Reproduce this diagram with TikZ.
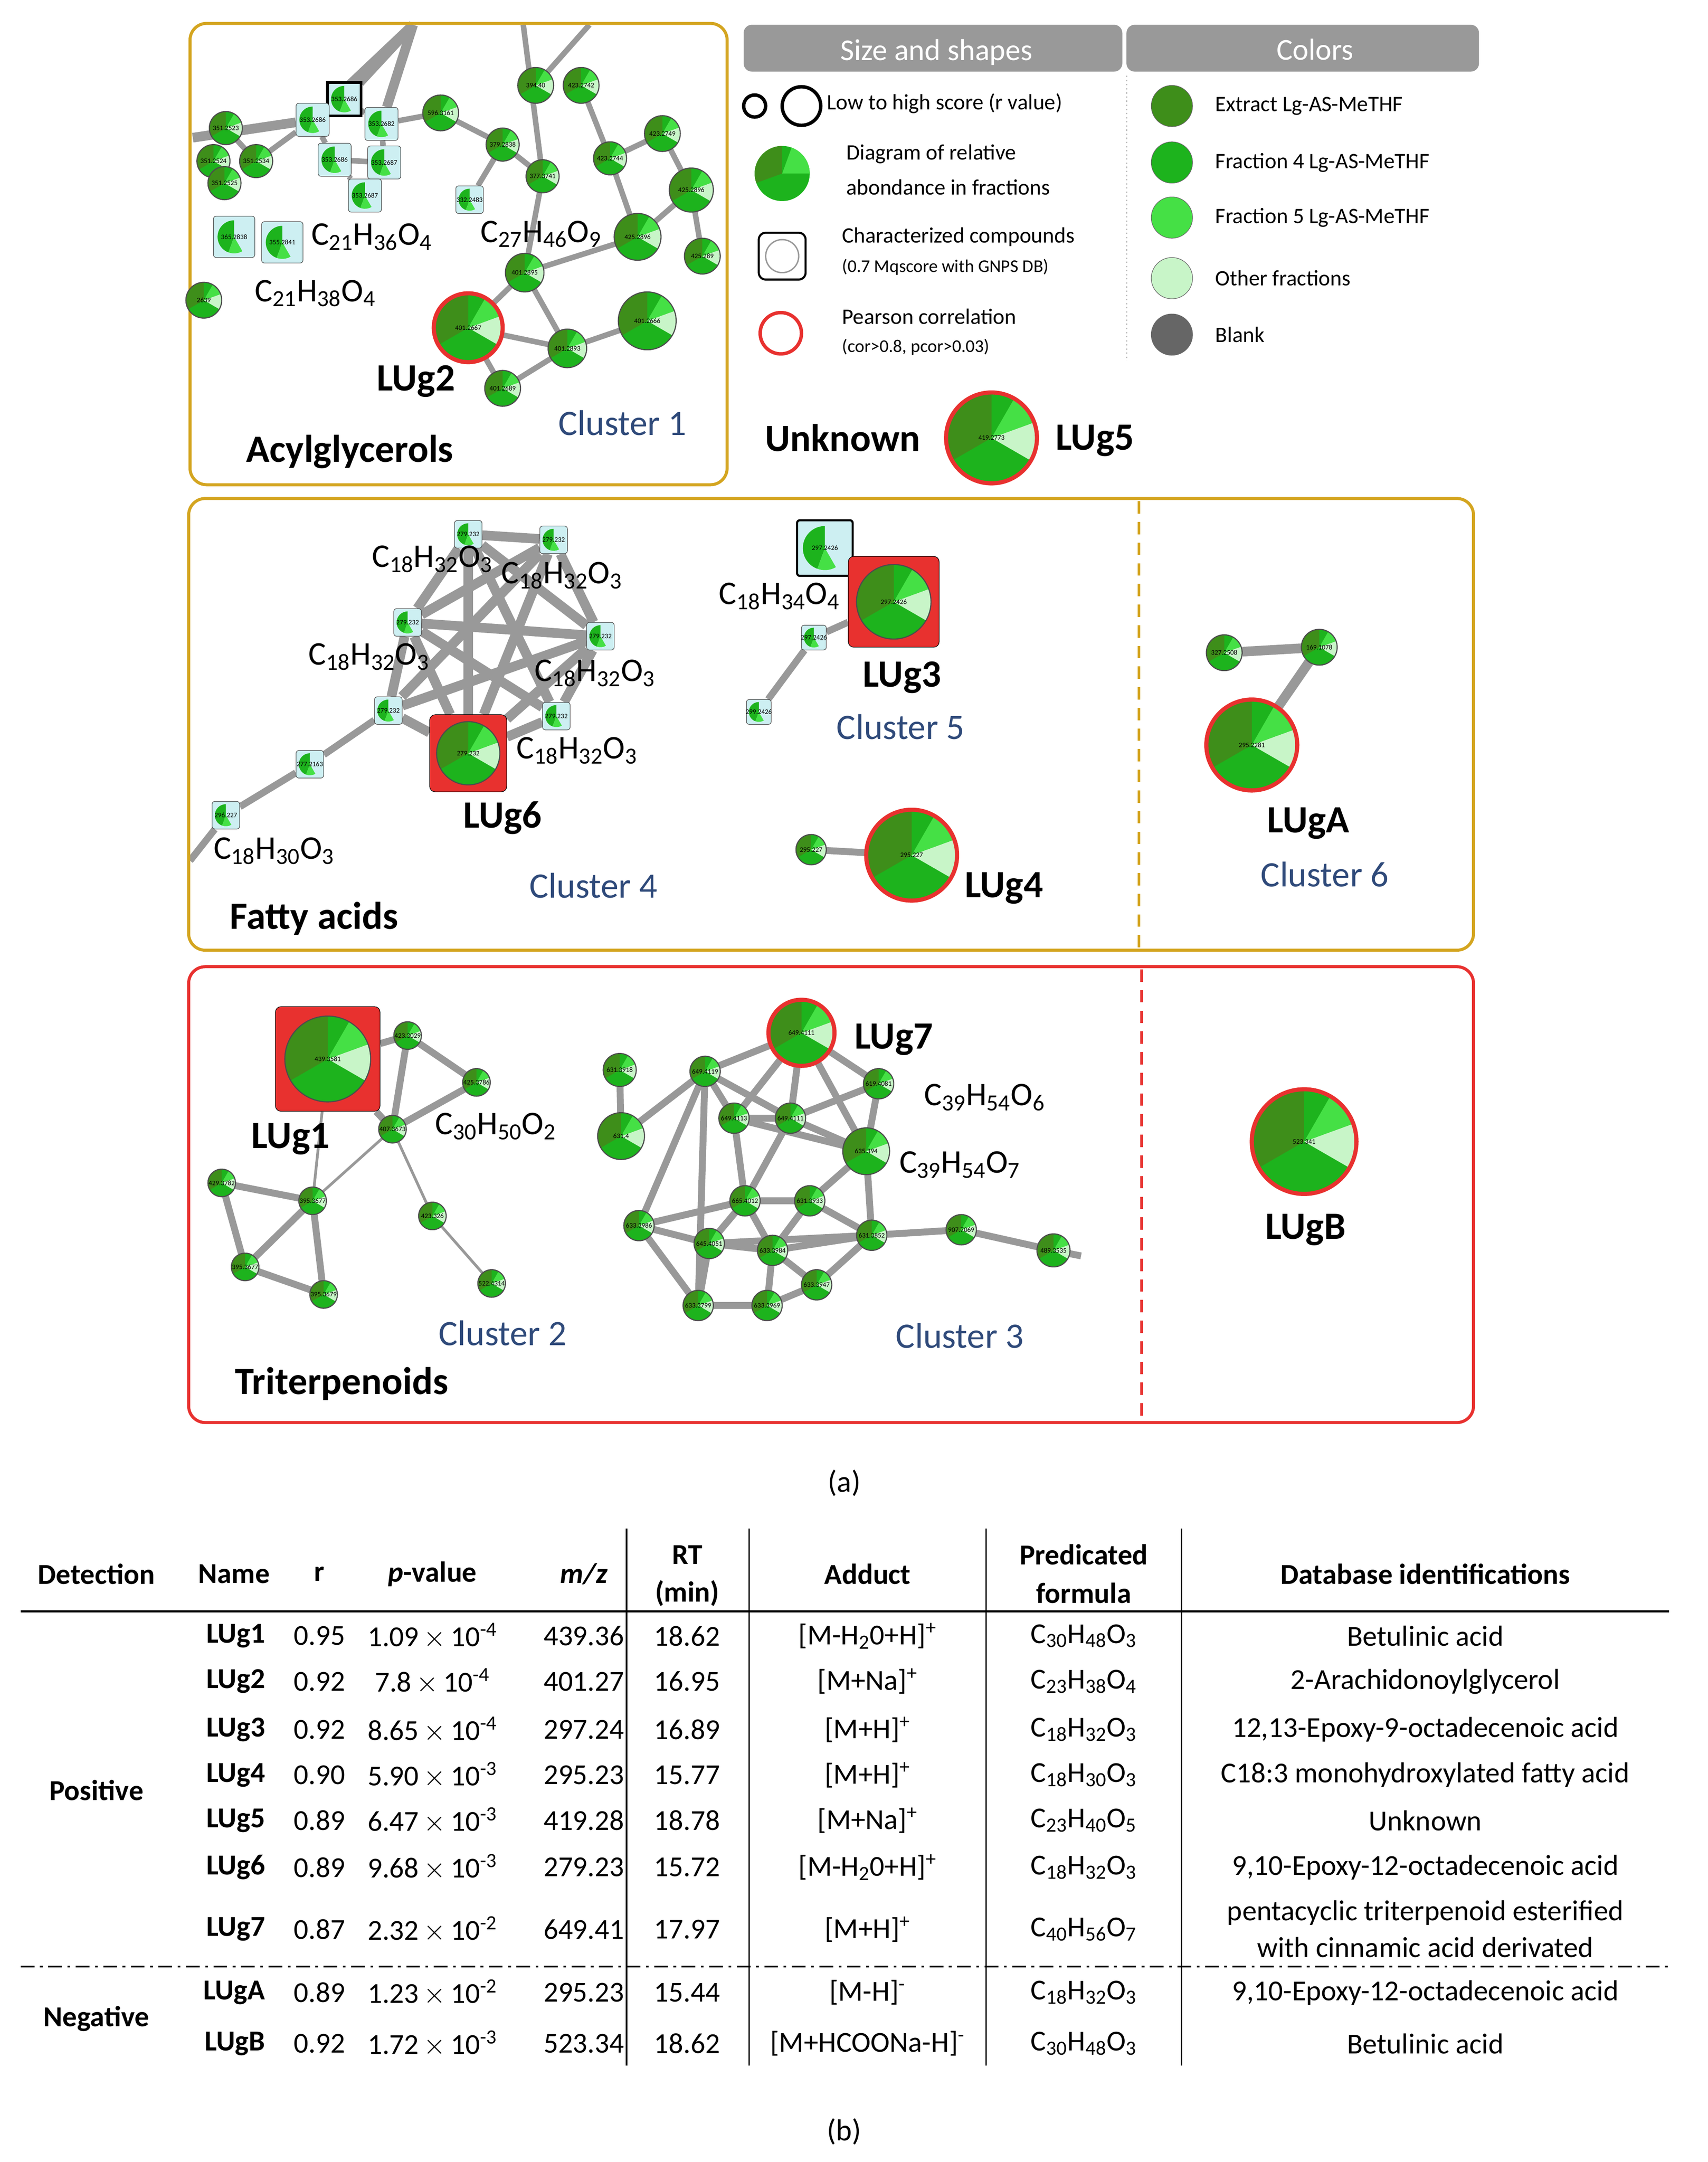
\documentclass[tikz,border=0pt]{standalone}
\usepackage{fontspec}
\setmainfont{Carlito}
\usetikzlibrary{backgrounds,calc}
\definecolor{gnA}{HTML}{3E8E1A}
\definecolor{gnB}{HTML}{1DB31D}
\definecolor{gnC}{HTML}{45E045}
\definecolor{gnD}{HTML}{C8F5C8}
\definecolor{gold}{HTML}{D4A520}
\definecolor{rd}{HTML}{E8312F}
\definecolor{cl}{HTML}{2F4A7A}
\definecolor{sqf}{HTML}{CDEFF2}
\tikzset{
 panel/.style={rounded corners=12pt,line width=2.2pt},
 edg/.style={draw=black!40,line width=#1},
 edg/.default=4pt,
 vdash/.style={line width=2pt,dash pattern=on 9pt off 6pt},
 clab/.style={text=cl,font=\fontsize{26}{28}\selectfont},
 blab/.style={font=\bfseries\fontsize{28}{30}\selectfont},
 flab/.style={font=\fontsize{24}{26}\selectfont},
 lg/.style={font=\fontsize{16}{18}\selectfont,anchor=west},
 lgs/.style={font=\fontsize{13}{15}\selectfont,anchor=west},
 tb/.style={font=\fontsize{21}{23}\selectfont},
 th/.style={font=\bfseries\fontsize{21}{23}\selectfont},
 num/.style={font=\fontsize{5}{6}\selectfont}
}
\newcommand\Pie[5]{%
 \node[circle,fill=gnB,inner sep=0,minimum size={2*#4 pt}] (#1) at (#2,#3) {};
 \fill[gnA] (#1.center) -- ++(90:#4pt) arc[start angle=90,end angle=210,radius=#4pt] -- cycle;
 \fill[gnD] (#1.center) -- ++(-30:#4pt) arc[start angle=-30,end angle=20,radius=#4pt] -- cycle;
 \fill[gnC] (#1.center) -- ++(20:#4pt) arc[start angle=20,end angle=60,radius=#4pt] -- cycle;
 \draw[black!70,line width=0.8pt] (#1.center) circle[radius=#4pt];
 \node[num] at (#1.center) {#5};}
\newcommand\RPie[5]{\Pie{#1}{#2}{#3}{#4}{#5}\draw[rd,line width=3pt] (#1.center) circle[radius=#4pt];}
\newcommand\Sq[5]{%
 \node[rectangle,rounded corners=2pt,draw=black!70,fill=sqf,inner sep=0,minimum size={2*#4 pt}] (#1) at (#2,#3) {};
 \fill[gnB] (#1.center) -- ++(90:{0.8*#4 pt}) arc[start angle=90,end angle=250,radius={0.8*#4 pt}] -- cycle;
 \fill[gnC] (#1.center) -- ++(250:{0.8*#4 pt}) arc[start angle=250,end angle=300,radius={0.8*#4 pt}] -- cycle;
 \node[num] at (#1.center) {#5};}
\newcommand\RSq[5]{%
 \node[rectangle,rounded corners=4pt,draw=black,fill=rd,inner sep=0,minimum size={2*#4 pt}] (#1) at (#2,#3) {};
 \Pie{#1c}{#2}{#3}{0.82*#4}{#5}}
\newcommand\F[3]{C\textsubscript{#1}H\textsubscript{#2}O\textsubscript{#3}}
\begin{document}
\begin{tikzpicture}[x=1pt,y=-1pt]
\useasboundingbox (0,0) rectangle (1240,1570);
% panels
\draw[panel,gold] (138,17) rectangle (528,352);
\draw[panel,gold] (137,362) rectangle (1070,690);
\draw[gold,vdash] (827,364) -- (827,688);
\draw[panel,rd] (137,702) rectangle (1070,1033);
\draw[rd,vdash] (829,704) -- (829,1031);
% legend
\fill[black!40,rounded corners=6pt] (540,52) -- (540,18) -- (815,18) -- (815,52) -- cycle;
\fill[black!40,rounded corners=6pt] (818,52) -- (818,18) -- (1074,18) -- (1074,52) -- cycle;
\node[text=white,font=\fontsize{22}{24}\selectfont] at (680,38) {Size and shapes};
\node[text=white,font=\fontsize{22}{24}\selectfont] at (955,36) {Colors};
\draw[black!25,dotted,line width=1pt] (818,55) -- (818,262);
\draw[line width=2.5pt] (548,77) circle[radius=8pt];
\draw[line width=2.5pt] (582,77) circle[radius=14pt];
\node[lg] at (597,75) {Low to high score (r value)};
\node[circle,inner sep=0,minimum size=40pt] (lgpie) at (568,126) {};
\fill[gnB] (568,126) circle[radius=20pt];
\fill[gnA] (568,126) -- ++(90:20pt) arc[start angle=90,end angle=200,radius=20pt] -- cycle;
\fill[gnC] (568,126) -- ++(0:20pt) arc[start angle=0,end angle=70,radius=20pt] -- cycle;
\node[lg] at (611,112) {Diagram of relative};
\node[lg] at (611,136) {abondance in fractions};
\draw[line width=1.5pt,rounded corners=5pt] (551,169) rectangle (585,203);
\draw[black!40,line width=1pt] (568,186) circle[radius=12pt];
\node[lg] at (608,172) {Characterized compounds};
\node[lgs] at (608,194) {(0.7 Mqscore with GNPS DB)};
\draw[rd,line width=2.5pt] (567,242) circle[radius=15pt];
\node[lg] at (608,230) {Pearson correlation};
\node[lgs] at (608,252) {(cor>0.8, pcor>0.03)};
\foreach \yy/\cc/\tt in {77/gnA/Extract Lg-AS-MeTHF,118/gnB/Fraction 4 Lg-AS-MeTHF,158/gnC/Fraction 5 Lg-AS-MeTHF,202/gnD/Other fractions,243/black!60/Blank}{
 \fill[\cc,draw=black!60] (851,\yy) circle[radius=15pt];
 \node[lg] at (879,\yy) {\tt};}
\node[blab] at (612,318) {Unknown};
\RPie{lug5}{720}{318}{33}{419.2773}
\node[blab] at (795,320) {LUg5};
% ---------- cluster 1
\Sq{s1}{250}{72}{12}{353.2686}
\draw[line width=2pt] (s1.south west) rectangle (s1.north east);
\Sq{s2}{227}{87}{12}{353.2686}
\Sq{s3}{277}{90}{12}{353.2682}
\Sq{s4}{243}{116}{12}{353.2686}
\Sq{s5}{279}{118}{12}{353.2687}
\Sq{s6}{265}{142}{12}{353.2687}
\Sq{s7}{341}{145}{10}{332.2483}
\Sq{s8}{170}{172}{15}{365.2838}
\Sq{s9}{205}{176}{15}{355.2841}
\Pie{c1}{164}{93}{12}{351.2523}
\Pie{c2}{155}{117}{12}{351.2524}
\Pie{c3}{186}{117}{12}{351.2534}
\Pie{c4}{163}{133}{12}{351.2525}
\Pie{c5}{320}{82}{13}{596.3161}
\Pie{c6}{389}{62}{13}{394.40}
\Pie{c7}{422}{62}{13}{423.2742}
\Pie{c8}{365}{105}{12}{379.2838}
\Pie{c9}{394}{128}{12}{377.3741}
\Pie{c10}{443}{115}{12}{423.2744}
\Pie{c11}{481}{97}{13}{423.2749}
\Pie{c12}{502}{138}{16}{425.2896}
\Pie{c13}{463}{172}{17}{425.2896}
\Pie{c14}{510}{186}{13}{425.289}
\Pie{c15}{381}{198}{14}{401.2895}
\Pie{c16}{412}{253}{14}{401.2893}
\Pie{c17}{470}{233}{21}{401.2666}
\RPie{c18}{340}{238}{25}{401.2667}
\Pie{c19}{365}{282}{13}{401.2689}
\Pie{c20}{148}{218}{13}{2639}
\coordinate (t1) at (300,18); \coordinate (t2) at (380,18); \coordinate (t3) at (428,18);
\coordinate (t4) at (140,100);
\begin{pgfonlayer}{background}
\draw[edg=7pt] (t1)--(s1) (t1)--(s3) (t1)--(s2) (t4)--(s2) (s2)--(s1);
\draw[edg] (s1)--(s3) (s2)--(s4) (s3)--(s5) (s4)--(s6) (s5)--(s6) (s4)--(s5) (s3)--(c5) (c5)--(c8) (c8)--(s7) (c8)--(c9)
 (t2)--(c9) (t3)--(c6) (c7)--(c10) (c10)--(c11) (c11)--(c12) (c12)--(c14) (c12)--(c13) (c10)--(c13) (c13)--(c15)
 (c15)--(c18) (c15)--(c16) (c16)--(c17) (c18)--(c16) (c18)--(c19) (c16)--(c19) (c9)--(c15) (c1)--(c3) (c2)--(c4) (c3)--(s2);
\end{pgfonlayer}
\node[flab] at (270,172) {\F{21}{36}{4}};
\node[flab] at (393,170) {\F{27}{46}{9}};
\node[flab] at (229,213) {\F{21}{38}{4}};
\node[blab] at (302,277) {LUg2};
\node[clab] at (452,307) {Cluster 1};
\node[blab] at (254,328) {Acylglycerols};
% ---------- cluster 4
\Sq{f1}{340}{388}{10}{279.232}
\Sq{f2}{402}{392}{10}{279.232}
\Sq{f3}{296}{452}{10}{279.232}
\Sq{f4}{436}{462}{10}{279.232}
\Sq{f5}{282}{516}{10}{279.232}
\Sq{f6}{404}{520}{10}{279.232}
\Sq{f7}{225}{555}{10}{277.2163}
\Sq{f8}{164}{592}{10}{296.227}
\RSq{lug6}{340}{547}{28}{279.232}
\coordinate (fe) at (138,625);
\begin{pgfonlayer}{background}
\draw[edg=7pt] (f1)--(f2) (f1)--(f3) (f2)--(f4) (f1)--(f4) (f2)--(f3) (f3)--(f4) (f1)--(lug6) (f2)--(lug6) (f3)--(lug6) (f4)--(lug6) (f3)--(f6) (f4)--(f6) (f1)--(f6) (f2)--(f5) (f3)--(f5) (f5)--(lug6) (f6)--(lug6) (f4)--(f5);
\draw[edg=5pt] (f5)--(f7) (f7)--(f8) (f8)--(fe);
\end{pgfonlayer}
\node[flab] at (314,406) {\F{18}{32}{3}};
\node[flab] at (408,418) {\F{18}{32}{3}};
\node[flab] at (268,477) {\F{18}{32}{3}};
\node[flab] at (432,489) {\F{18}{32}{3}};
\node[flab] at (419,545) {\F{18}{32}{3}};
\node[flab] at (199,618) {\F{18}{30}{3}};
\node[blab] at (365,594) {LUg6};
\node[clab] at (431,643) {Cluster 4};
\node[blab] at (228,667) {Fatty acids};
% cluster 5
\Sq{g1}{599}{398}{20}{297.2426}
\draw[line width=1.5pt,rounded corners=2pt] (g1.south west) rectangle (g1.north east);
\RSq{lug3}{649}{437}{33}{297.2426}
\Sq{g2}{591}{463}{9}{297.2426}
\Sq{g3}{551}{517}{9}{299.2426}
\begin{pgfonlayer}{background}
\draw[edg=5pt] (g1)--(lug3) (g2)--(lug3) (g2)--(g3);
\end{pgfonlayer}
\node[flab] at (566,433) {\F{18}{34}{4}};
\node[blab] at (655,492) {LUg3};
\node[clab] at (654,528) {Cluster 5};
\RPie{lug4}{662}{621}{33}{295.227}
\Pie{h1}{589}{617}{11}{295.227}
\begin{pgfonlayer}{background}\draw[edg=5pt] (h1)--(lug4);\end{pgfonlayer}
\node[blab] at (729,645) {LUg4};
% cluster 6
\Pie{k1}{889}{474}{13}{327.2508}
\Pie{k2}{958}{470}{13}{169.1078}
\RPie{lugA}{909}{541}{33}{295.2281}
\begin{pgfonlayer}{background}\draw[edg=7pt] (k2)--(lugA) (k1)--(k2);\end{pgfonlayer}
\node[blab] at (950,598) {LUgA};
\node[clab] at (962,635) {Cluster 6};
% ---------- cluster 2
\RSq{lug1}{238}{769}{38}{439.3581}
\Pie{m1}{296}{752}{10}{423.3029}
\Pie{m2}{346}{786}{10}{425.3786}
\Pie{m3}{285}{820}{10}{407.3673}
\Pie{m4}{161}{859}{10}{429.3782}
\Pie{m5}{227}{872}{10}{395.3677}
\Pie{m6}{178}{920}{10}{395.3677}
\Pie{m7}{235}{940}{10}{395.3679}
\Pie{m8}{314}{883}{10}{423.326}
\Pie{m9}{357}{932}{10}{522.4314}
\begin{pgfonlayer}{background}
\draw[edg=5pt] (lug1)--(m1) (m1)--(m2) (m2)--(m3) (m1)--(m3) (lug1)--(m3) (m4)--(m6) (m5)--(m6) (m6)--(m7) (m5)--(m7) (m4)--(m5);
\draw[edg=2pt] (m3)--(m5) (m3)--(m8) (m8)--(m9) (lug1)--(m5);
\end{pgfonlayer}
\node[blab] at (211,827) {LUg1};
\node[flab] at (360,818) {\F{30}{50}{2}};
\node[clab] at (365,968) {Cluster 2};
\node[blab] at (248,1005) {Triterpenoids};
% cluster 3
\RPie{lug7}{582}{750}{24}{649.4111}
\Pie{n1}{450}{777}{12}{631.3918}
\Pie{n2}{451}{825}{17}{631.4}
\Pie{n3}{512}{778}{11}{649.4119}
\Pie{n4}{533}{812}{11}{649.4113}
\Pie{n5}{574}{812}{11}{649.4111}
\Pie{n6}{638}{787}{11}{619.4081}
\Pie{n7}{629}{836}{17}{635.394}
\Pie{n8}{541}{872}{11}{665.4012}
\Pie{n9}{588}{872}{11}{631.3933}
\Pie{n10}{464}{890}{11}{633.3986}
\Pie{n11}{515}{903}{11}{645.4051}
\Pie{n12}{561}{908}{11}{633.3984}
\Pie{n13}{593}{933}{11}{633.3947}
\Pie{n14}{633}{897}{11}{631.3852}
\Pie{n15}{698}{893}{11}{907.7069}
\Pie{n16}{765}{908}{12}{489.3535}
\Pie{n17}{507}{948}{11}{633.3799}
\Pie{n18}{557}{948}{11}{633.3969}
\coordinate (n19) at (785,912);
\begin{pgfonlayer}{background}
\draw[edg=5pt] (lug7)--(n3) (lug7)--(n4) (lug7)--(n5) (lug7)--(n6) (lug7)--(n7) (n3)--(n4) (n4)--(n5) (n3)--(n5) (n5)--(n6) (n5)--(n7) (n6)--(n7) (n4)--(n7)
 (n1)--(n2) (n3)--(n10) (n3)--(n2) (n4)--(n8) (n5)--(n8) (n8)--(n9) (n9)--(n7) (n8)--(n10) (n8)--(n11) (n8)--(n12) (n9)--(n14) (n9)--(n12)
 (n10)--(n11) (n11)--(n12) (n12)--(n13) (n13)--(n14) (n11)--(n17) (n17)--(n18) (n12)--(n18) (n13)--(n18) (n10)--(n17) (n7)--(n14) (n3)--(n17)
 (n14)--(n15) (n15)--(n16) (n16)--(n19) (n11)--(n14) (n12)--(n14);
\end{pgfonlayer}
\node[blab] at (649,755) {LUg7};
\node[flab] at (715,797) {\F{39}{54}{6}};
\node[flab] at (697,846) {\F{39}{54}{7}};
\node[clab] at (697,970) {Cluster 3};
\RPie{lugB}{947}{829}{38}{523.341}
\node[blab] at (948,893) {LUgB};
\node[font=\fontsize{22}{24}\selectfont] at (613,1077) {(a)};
% ---------- table
\foreach \xx in {455,544,716,858}{\draw[line width=1pt] (\xx,1110) -- (\xx,1500);}
\draw[line width=1.5pt] (15,1170) -- (1212,1170);
\draw[line width=1.2pt,dash pattern=on 10pt off 4pt on 2pt off 4pt] (15,1428) -- (1212,1428);
\node[th] at (70,1143) {Detection};
\node[th] at (170,1143) {Name};
\node[th] at (232,1143) {r};
\node[th] at (314,1143) {\textit{p}-value};
\node[th] at (424,1143) {\textit{m/z}};
\node[th] at (499,1129) {RT};
\node[th] at (499,1157) {(min)};
\node[th] at (630,1143) {Adduct};
\node[th] at (787,1129) {Predicated};
\node[th] at (787,1157) {formula};
\node[th] at (1035,1143) {Database identifications};
\node[th] at (70,1300) {Positive};
\node[th] at (70,1466) {Negative};
\foreach \yy/\n/\r/\pm/\pe/\mz/\rt/\ad/\fo/\db in {
1188/LUg1/0.95/1.09/-4/439.36/18.62/{[M-H\textsubscript{2}0+H]\textsuperscript{+}}/{\F{30}{48}{3}}/{Betulinic acid},
1221/LUg2/0.92/7.8/-4/401.27/16.95/{[M+Na]\textsuperscript{+}}/{C\textsubscript{23}H\textsubscript{38}O\textsubscript{4}}/{2-Arachidonoylglycerol},
1256/LUg3/0.92/8.65/-4/297.24/16.89/{[M+H]\textsuperscript{+}}/{\F{18}{32}{3}}/{12,13-Epoxy-9-octadecenoic acid},
1289/LUg4/0.90/5.90/-3/295.23/15.77/{[M+H]\textsuperscript{+}}/{\F{18}{30}{3}}/{C18:3 monohydroxylated fatty acid},
1322/LUg5/0.89/6.47/-3/419.28/18.78/{[M+Na]\textsuperscript{+}}/{\F{23}{40}{5}}/{Unknown},
1356/LUg6/0.89/9.68/-3/279.23/15.72/{[M-H\textsubscript{2}0+H]\textsuperscript{+}}/{\F{18}{32}{3}}/{9,10-Epoxy-12-octadecenoic acid},
1401/LUg7/0.87/2.32/-2/649.41/17.97/{[M+H]\textsuperscript{+}}/{\F{40}{56}{7}}/{},
1447/LUgA/0.89/1.23/-2/295.23/15.44/{[M-H]\textsuperscript{-}}/{\F{18}{32}{3}}/{9,10-Epoxy-12-octadecenoic acid},
1484/LUgB/0.92/1.72/-3/523.34/18.62/{[M+HCOONa-H]\textsuperscript{-}}/{\F{30}{48}{3}}/{Betulinic acid}}{
 \node[th,anchor=east] at (196,\yy) {\n};
 \node[tb] at (232,\yy) {\r};
 \node[tb] at (314,\yy) {\pm\,$\times$\,10\textsuperscript{\pe}};
 \node[tb] at (424,\yy) {\mz};
 \node[tb] at (499,\yy) {\rt};
 \node[tb] at (630,\yy) {\ad};
 \node[tb] at (787,\yy) {\fo};
 \node[tb] at (1035,\yy) {\db};}
\node[tb] at (1035,1389) {pentacyclic triterpenoid esterified};
\node[tb] at (1035,1414) {with cinnamic acid derivated};
\node[font=\fontsize{22}{24}\selectfont] at (613,1548) {(b)};
\end{tikzpicture}
\end{document}
